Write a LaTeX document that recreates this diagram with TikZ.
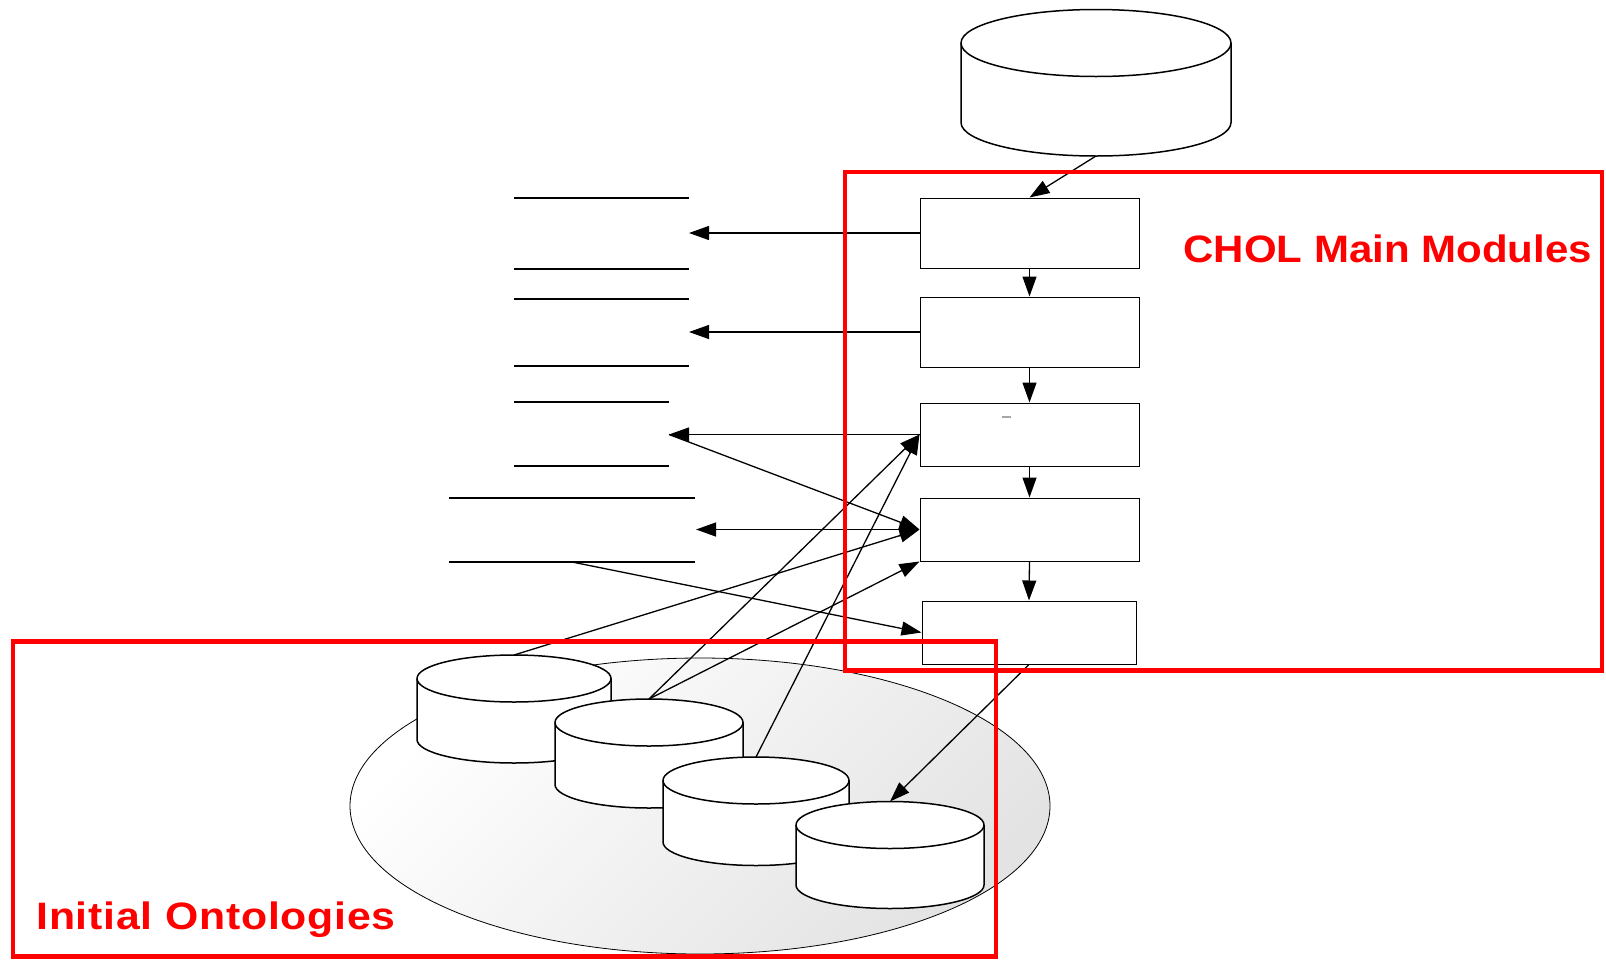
\documentclass[tikz,border=0pt]{standalone}
\usepackage{fontspec}
\newfontfamily\chfont{Liberation Sans}
\newfontfamily\iofont[LetterSpace=1.8]{Liberation Sans}
\usetikzlibrary{arrows.meta}
\tikzset{
  conn/.style={line width=0.65pt, -{Triangle[length=10pt,width=7pt]}},
  dconn/.style={line width=0.65pt, {Triangle[length=10pt,width=7pt]}-{Triangle[length=10pt,width=7pt]}},
  plain/.style={line width=0.65pt},
  module/.style={draw, line width=0.5pt, fill=white, inner sep=0pt, minimum width=109.5pt},
  cyl/.style={line width=0.75pt, fill=white},
  group/.style={draw=red, line width=2.4pt},
  grouplabel/.style={text=red, anchor=base west, inner sep=0pt},
}
% name, cx, top-centre y, rx, ry, bottom-centre y   (pixel units)
\newcommand\dbcyl[6]{%
  \filldraw[cyl] ({#2-#4},#3) -- ({#2-#4},#6)
     arc[start angle=180,end angle=360,x radius={#4*0.5pt},y radius={#5*0.5pt}]
     -- ({#2+#4},#3)
     arc[start angle=0,end angle=180,x radius={#4*0.5pt},y radius={#5*0.5pt}] -- cycle;
  \draw[cyl, fill=none] ({#2+#4},#3)
     arc[start angle=0,end angle=-180,x radius={#4*0.5pt},y radius={#5*0.5pt}];
  \coordinate (#1 top) at (#2,{#3-#5});
  \coordinate (#1 bot) at (#2,{#6+#5});
}
\begin{document}
\begin{tikzpicture}[x=0.5pt,y=-0.5pt]
\useasboundingbox (0,0) rectangle (1606,959);

% shaded pool of initial ontologies
\shade[top color=white, middle color=white, bottom color=black!11, shading angle=45]
  (700,806) ellipse[x radius=175pt, y radius=74pt];
\draw[line width=0.4pt] (700,806) ellipse[x radius=175pt, y radius=74pt];

% top database
\dbcyl{db}{1096}{43}{135}{33.5}{122.5}

% main modules
\node[module, minimum height=35pt]   (m1) at (1029.5,233) {};
\node[module, minimum height=35pt]   (m2) at (1029.5,332) {};
\node[module, minimum height=31.5pt] (m3) at (1029.5,434.5) {};
\node[module, minimum height=31.5pt] (m4) at (1029.5,529.5) {};
\node[module, minimum height=31.5pt, minimum width=107pt] (m5) at (1029,632.5) {};
\draw[black!35, line width=0.6pt] (1002,417) -- (1011,417);

% left placeholder lines
\draw[plain] (514,198) -- (689,198);
\draw[plain] (514,269) -- (689,269);
\draw[plain] (514,299) -- (689,299);
\draw[plain] (514,366) -- (689,366);
\draw[plain] (514,402) -- (669,402);
\draw[plain] (514,466) -- (669,466);
\draw[plain] (449,498) -- (695,498);
\draw[plain] (449,562) -- (695,562);
\coordinate (t1) at (689,233);
\coordinate (t2) at (689,332);
\coordinate (t3) at (669,434.5);
\coordinate (t4) at (696,529.5);
\coordinate (s8) at (572,562);

% initial ontologies
\dbcyl{c1}{514}{678.5}{97}{23.5}{739.5}
\dbcyl{c2}{649}{722.5}{94}{23.5}{784.5}
\dbcyl{c3}{756}{780.5}{93}{23.5}{842}
\dbcyl{c4}{890}{825}{94}{23.5}{885}

% connectors
\draw[conn] (db bot) -- (m1.north);
\draw[conn] (m1.south) -- (m2.north);
\draw[conn] (m2.south) -- (m3.north);
\draw[conn] (m3.south) -- (m4.north);
\draw[conn] (m4.south) -- (m5.north);
\draw[conn] (m1.west) -- (t1);
\draw[conn] (m2.west) -- (t2);
\draw[conn] (m3.west) -- (t3);
\draw[conn] (t3) -- (m4.west);
\draw[dconn] (t4) -- (m4.west);
\draw[conn] (c1 top) -- (m4.west);
\draw[conn] (c2 top) -- (m3.west);
\draw[conn] (c3 top) -- (m3.west);
\draw[conn] (c2 top) -- (m4.south west);
\draw[conn] (s8) -- (m5.west);
\draw[conn] (m5.south) -- (c4 top);

% groups
\draw[group] (845,172) rectangle (1602,670.5);
\draw[group] (13,641.5) rectangle (996,956.5);
\node[grouplabel] (chol) at (1183,262) {\scalebox{1.1}[1]{\chfont\bfseries\fontsize{19.1}{22}\selectfont CHOL Main Modules}};
\node[grouplabel] (init) at (36,929) {\scalebox{1.12}[1]{\iofont\bfseries\fontsize{19.1}{22}\selectfont Initial Ontologies}};
\end{tikzpicture}
\end{document}
